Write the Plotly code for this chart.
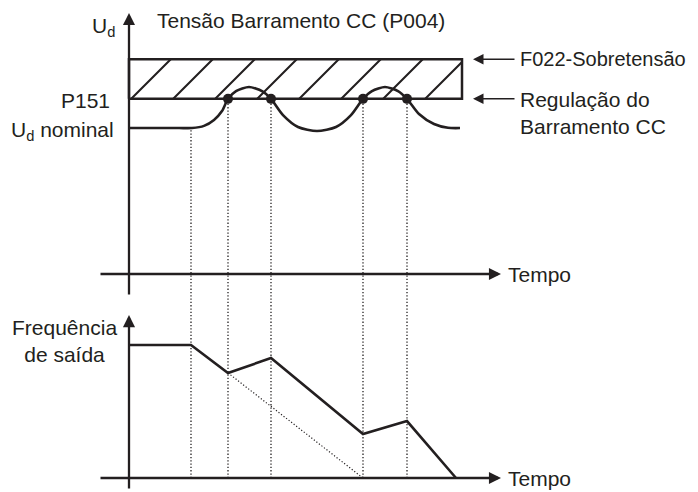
import math
import plotly.graph_objects as go

# ---------------- data ----------------
# DC-link voltage levels (V)
ud_nominal = 540
p151 = 648
f022 = 795

# DC-link voltage (Ud) trace, time in arbitrary units
ud_t = [0, 5.0, 6.3, 7.5, 8.5, 9.3, 9.9, 10.7, 12.0, 13.3, 14.2, 15.4, 16.9, 18.8,
        20.7, 22.2, 23.4, 24.3, 25.6, 26.9, 27.8, 29.0, 30.5, 31.9, 33.1]
ud_v = [540, 540, 540, 548, 570, 603, 648, 677, 692, 677, 648, 588, 544, 529,
        544, 588, 648, 677, 692, 677, 648, 592, 555, 541, 540]

# instants where regulation starts / stops
event_t = [6.2, 9.9, 14.2, 23.4, 27.8]
event_v = [540, 648, 648, 648, 648]
dot_t = [9.9, 14.2, 23.4, 27.8]
dot_v = [648, 648, 648, 648]
band_t = [0, 33.3]

# output frequency (Hz)
freq_t = [0, 6.2, 9.9, 14.2, 23.4, 27.8, 32.7]
freq_f = [60, 60, 47.4, 54.1, 19.8, 25.7, 0]
# ramp without regulation (dotted)
ramp_t = [9.9, 23.4]
ramp_f = [47.4, 0]

# ---------------- layout constants ----------------
OFF = 8                 # page body margin
W, H = 690, 484
ML = 4
PW = W - ML
X0 = -(129 - OFF - ML) / 10.0
X_RANGE = [X0, X0 + PW / 10.0]
VS = 3.7                # volts per pixel
Y_RANGE = [-(H - (274 - OFF)) * VS, (274 - OFF) * VS]
FS = 60 / 133.0         # Hz per pixel
Y2_RANGE = [-(H - (478 - OFF)) * FS, (478 - OFF) * FS]
INK = "#231f20"
FONT = dict(family="Liberation Sans, Arial, sans-serif", size=21, color=INK)


def v_to_f(v):
    return Y2_RANGE[0] + (v - Y_RANGE[0]) / (Y_RANGE[1] - Y_RANGE[0]) * (Y2_RANGE[1] - Y2_RANGE[0])


def px(x):
    return (x - OFF - ML) / PW


def py(y):
    return 1 - (y - OFF) / H


fig = go.Figure()

# hatched over-voltage band
fig.add_trace(go.Scatter(
    x=[band_t[0], band_t[1], band_t[1], band_t[0], band_t[0]],
    y=[p151, p151, f022, f022, p151],
    mode="lines", fill="toself", fillcolor="rgba(0,0,0,0)",
    fillpattern=dict(shape="/", size=42 / math.sqrt(2), solidity=0.07, fgcolor=INK,
                     fgopacity=1, bgcolor="rgba(0,0,0,0)"),
    line=dict(color=INK, width=2.5), hoverinfo="skip", yaxis="y"))

# dotted verticals (span both panels)
for t, v in zip(event_t, event_v):
    fig.add_trace(go.Scatter(x=[t, t], y=[0, v_to_f(v)], mode="lines",
                             line=dict(color=INK, width=1.3, dash="1.3px,2px"),
                             yaxis="y2", hoverinfo="skip"))

# Ud curve
fig.add_trace(go.Scatter(x=ud_t, y=ud_v, mode="lines",
                         line=dict(color=INK, width=2.6, shape="spline", smoothing=0.7),
                         yaxis="y", hoverinfo="skip"))
fig.add_trace(go.Scatter(x=dot_t, y=dot_v, mode="markers",
                         marker=dict(color=INK, size=10), yaxis="y", hoverinfo="skip"))

# frequency
fig.add_trace(go.Scatter(x=ramp_t, y=ramp_f, mode="lines",
                         line=dict(color=INK, width=1.2, dash="1.2px,2px"),
                         yaxis="y2", hoverinfo="skip"))
fig.add_trace(go.Scatter(x=freq_t, y=freq_f, mode="lines",
                         line=dict(color=INK, width=2.6), yaxis="y2", hoverinfo="skip"))

anns = []


def arrow(x, y, ax, ay, yref, width=2.3, size=1.05):
    anns.append(dict(x=x, y=y, ax=ax, ay=ay, xref="x", yref=yref, axref="x", ayref=yref,
                     text="", showarrow=True, arrowhead=2, arrowsize=size,
                     arrowwidth=width, arrowcolor=INK, standoff=0, startstandoff=0))


# axes with arrows
arrow(0, 965.7, 0, -81.4, "y")
arrow(37.2, 0, -3.0, 0, "y")
arrow(0, 73.5, 0, -5.4, "y2")
arrow(37.2, 0, -3.0, 0, "y2")
# pointers to band
arrow(34.4, f022, 38.7, f022, "y", width=1.5, size=1.4)
arrow(34.4, p151, 38.7, p151, "y", width=1.5, size=1.4)


def label(text, x, y, xanchor, align="left", size=21):
    anns.append(dict(text=text, x=px(x), y=py(y), xref="paper", yref="paper",
                     xanchor=xanchor, yanchor="middle", align=align,
                     showarrow=False, font=dict(FONT, size=size)))


label("U<sub>d</sub>", 117, 27, "right")
label("Tensão Barramento CC (P004)", 155, 21, "left")
label("P151", 112, 100, "right")
label("U<sub>d</sub> nominal", 116, 131, "right")
label("F022-Sobretensão", 518, 59, "left", size=20)
label("Regulação do<br>Barramento CC", 518, 113, "left")
label("Frequência<br>de saída", 64, 341, "center", align="center")
label("Tempo", 506, 274, "left")
label("Tempo", 506, 478, "left")

fig.update_layout(
    width=W, height=H, margin=dict(l=ML, r=0, t=0, b=0),
    paper_bgcolor="white", plot_bgcolor="white", showlegend=False,
    xaxis=dict(range=X_RANGE, visible=False, fixedrange=True),
    yaxis=dict(range=Y_RANGE, visible=False, fixedrange=True, domain=[0, 1]),
    yaxis2=dict(range=Y2_RANGE, visible=False, fixedrange=True, overlaying="y",
                domain=[0, 1]),
    annotations=anns,
)

fig.write_html("out.html", config={"displayModeBar": False})
